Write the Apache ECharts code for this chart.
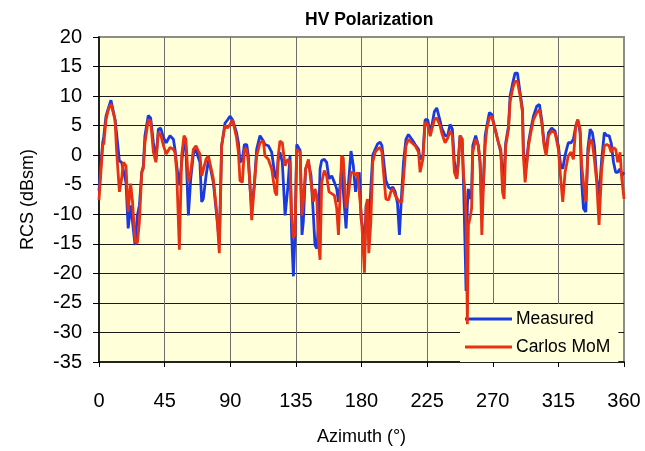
<!DOCTYPE html>
<html>
<head>
<meta charset="utf-8">
<script src="https://cdn.jsdelivr.net/npm/echarts@6/dist/echarts.min.js"></script>
<style>
html,body{margin:0;padding:0;background:#fff;}
#chart{width:645px;height:451px;}
</style>
</head>
<body>
<div id="chart"></div>
<script>
const chartTitle = 'HV Polarization';
const xAxisName = 'Azimuth (°)';
const yAxisName = 'RCS (dBsm)';
const seriesNames = ['Measured', 'Carlos MoM'];

const azimuth = [
0,2.5,3.3,4.8,6.5,8.2,11,12,14,15.5,16.7,18.5,20,21.7,23,24.7,26.3,27.7,29.3,30.4,
31.5,33.8,35.4,37.3,39,40.7,42.3,44.1,46.1,48.7,51,52.1,53.3,55.1,56.7,58.3,59.6,61.3,62.9,64.7,
66.5,68.1,69.2,70.4,71.5,73.4,75,76.1,78.4,80.7,82.5,84.1,86.4,88.2,89.8,91.6,94.3,95.6,96.7,98.3,
99.7,101.3,102.4,103.6,104.7,106.5,108.1,110.4,112.7,113.8,116.1,118.4,120.7,121.8,122.9,124.1,125.7,127.6,129.4,131,
132.1,133.3,134.4,135.6,137.9,139.2,140.1,141.7,143.6,145.4,147,148.1,149.3,150.4,151.6,152.7,154.5,156.1,157.7,159.6,
161.4,163,164.2,166.4,167.5,169.4,171,172.8,174.4,175.9,177.2,178.5,179.7,180.9,182,183.2,184.1,185,186.4,187.7,
189.4,191,192.8,194,195.1,196.7,198.5,200.1,201.5,203.1,204.7,206,207.6,208.8,210.5,212.2,214.5,216.8,219.1,220.2,
222.1,223.6,225.4,227.1,228.2,230,231.6,233.9,235,237.3,239.1,240.7,242.3,243.7,245.3,246.5,247.6,249,250,251,
251.7,252.6,253.3,254.4,255.5,256.3,258.3,260.1,261.3,262.5,263.6,264.8,265.9,267.7,269.3,271.6,273.9,275.5,276.7,277.8,
278.9,280.8,281.9,283.7,285.3,286.9,288.8,290.4,291,292.2,293.3,294.5,296.1,297.9,300.2,302,303.6,305.2,306.6,308.2,
310.4,312.7,315,316.6,318,319.6,321.8,323.7,325.3,326.9,328.3,329.9,331,332.2,333.8,335.2,336.8,338.3,339.7,341.3,
342.9,344.7,346.5,348.2,349.8,351.2,352.8,354.3,355.7,357.3,358.5,360
];

const measured = [
-6.0,2.1,3.2,6.6,8.0,9.3,6.0,3.8,-1.0,-1.2,-1.2,-4.6,-12.4,-8.5,-11.3,-15.2,-10.2,-8.5,-2.9,-1.8,
3.3,6.7,6.3,2.1,-0.9,4.4,4.6,3.0,2.1,3.3,2.7,1.0,-1.8,-5.1,-1.2,2.4,1.0,-10.2,-4.0,0.2,
1.0,-0.4,-1.2,-7.9,-7.4,-3.5,-0.9,-1.8,-4.6,-10.2,-14.6,1.6,5.4,6.0,6.6,6.0,3.8,2.1,-1.2,-0.7,
1.8,1.8,-0.1,-5.7,-9.0,-5.1,1.0,3.3,2.4,1.8,1.6,0.5,-3.5,-4.0,-0.7,0.5,-1.2,-10.2,-5.7,-0.1,
-13.5,-20.5,-13.5,1.8,0.8,-13.5,-11.3,-2.3,-1.2,-3.5,-10.2,-15.2,-15.8,-12.4,-2.3,-0.9,-0.7,-1.2,-4.0,-3.5,
-4.6,-5.7,-7.9,-2.3,-2.3,-12.4,-5.0,0.7,-1.8,-6.2,-4.0,-2.9,-10.7,-12.4,-16.5,-8.5,-7.9,-12.0,-5.7,0.0,
1.0,1.9,2.2,1.6,-0.7,-4.3,-5.4,-5.7,-5.4,-6.2,-8.2,-13.5,-6.2,-1.2,2.7,3.5,2.7,1.8,1.0,-0.7,
-0.1,6.0,6.0,3.8,5.0,7.4,8.0,5.8,4.6,3.3,3.3,5.2,4.4,-1.2,-4.0,-0.5,3.3,2.7,-5.1,-15.2,
-23.0,-8.5,-5.7,-7.4,-6.2,1.6,3.3,1.6,-1.2,-8.5,-4.6,3.3,4.9,7.2,6.9,4.4,2.1,0.5,-3.5,-3.0,
2.1,4.9,10.0,12.2,13.9,13.9,10.5,7.7,1.0,-2.3,-1.2,2.1,4.4,6.6,8.3,8.6,6.0,2.1,0.5,3.8,
4.6,4.1,1.6,-1.8,-2.3,0.0,2.1,2.1,2.7,4.9,6.0,3.8,-4.6,-9.0,-9.6,1.0,4.4,3.8,1.6,-4.0,
-6.8,-0.7,3.8,3.3,3.3,2.1,-1.2,-2.9,-2.9,-2.3,-3.5,-2.9
];

const carlosMoM = [
-7.6,1.6,2.0,6.0,7.8,8.7,6.0,1.0,-6.2,-4.0,-1.2,-1.8,-9.6,-4.8,-7.9,-14.6,-14.9,-11.3,-2.9,-2.3,
2.1,6.0,5.8,0.5,-1.2,3.8,3.5,1.7,0.2,1.3,1.0,0.5,-2.9,-16.0,-0.1,3.3,2.7,-4.6,-2.9,1.0,
1.6,0.7,0.2,-3.5,-3.5,-0.7,-0.1,-0.4,-4.0,-9.6,-16.6,1.6,5.0,4.6,5.2,6.0,3.0,0.5,-4.3,-4.6,
1.0,1.0,-1.2,-5.1,-11.0,-5.1,-0.1,2.1,2.4,-0.1,-0.7,-2.3,-6.2,-6.8,-0.1,2.4,2.1,-1.8,-0.7,-1.2,
-10.1,-14.0,-13.4,1.0,0.5,-10.2,-7.9,-2.3,-0.7,-4.6,-7.9,-5.7,-6.8,-14.6,-17.7,-4.6,-2.6,-3.5,-6.2,-6.5,
-6.8,-9.0,-13.5,-0.1,-0.5,-9.0,-6.8,-2.9,-2.9,-3.5,-2.9,-3.2,-9.6,-14.6,-19.9,-8.5,-7.4,-16.6,-11.3,-1.2,
0.5,1.0,1.3,0.5,-2.9,-7.4,-7.6,-6.2,-5.7,-6.8,-7.4,-7.9,-7.9,-7.9,1.6,2.7,2.1,1.6,0.5,-2.9,
-0.7,5.5,5.2,3.2,3.3,6.0,6.3,5.0,3.8,2.1,2.9,4.1,3.3,-2.9,-4.0,-1.2,3.3,2.7,-3.5,-6.2,
-11.0,-28.6,-11.8,-10.7,-9.0,0.5,2.7,1.6,-1.2,-13.5,-5.1,1.6,4.4,6.3,6.6,4.4,2.1,1.0,-6.2,-7.4,
1.6,4.4,9.1,11.3,12.5,12.5,10.0,7.2,-0.1,-4.6,-4.6,1.6,3.8,6.0,7.2,7.7,5.5,1.6,-0.1,3.3,
4.1,3.8,1.0,-4.0,-7.9,-2.9,-0.1,0.5,-0.7,4.9,6.0,4.4,-1.8,-4.6,-7.9,-0.1,2.7,2.1,-0.7,-4.6,
-11.8,-2.3,1.6,1.8,1.6,0.5,1.3,1.0,-1.2,0.5,-4.0,-7.4
];

const xMin = 0, xMax = 360, xStep = 45;
const yMin = -35, yMax = 20, yStep = 5;

const font = "'Liberation Sans', Arial, sans-serif";
const pair = (vals) => azimuth.map((a, i) => [a, vals[i]]);

const chart = echarts.init(document.getElementById('chart'), null, {renderer: 'canvas'});
chart.setOption({
  backgroundColor: '#ffffff',
  animation: false,
  title: {
    text: chartTitle,
    left: 300, top: 6,
    textStyle: {fontFamily: font, fontWeight: 'bold', fontSize: 17.5, color: '#000'}
  },
  grid: {
    left: 99, right: 21, top: 37, bottom: 86,
    show: true, backgroundColor: '#FFFFDA', borderColor: '#8c8c8c', borderWidth: 2
  },
  legend: {
    data: seriesNames.map(n => ({name: n, icon: 'rect'})),
    orient: 'vertical',
    left: 460, top: 304,
    padding: [6, 8, 6, 5],
    itemWidth: 47, itemHeight: 3, itemGap: 10,
    backgroundColor: '#FFFFDA',
    z: 1,
    textStyle: {fontFamily: font, fontSize: 17.5, color: '#000', padding: [0, 0, 0, -1]}
  },
  xAxis: {
    type: 'value', min: xMin, max: xMax, interval: xStep,
    name: xAxisName, nameLocation: 'middle', nameGap: 66,
    nameTextStyle: {fontFamily: font, fontSize: 18, color: '#000'},
    axisLine: {show: true, onZero: false, lineStyle: {color: '#000', width: 1.5}},
    axisTick: {show: true, inside: false, length: 5, lineStyle: {color: '#000'}},
    axisLabel: {fontFamily: font, fontSize: 20, color: '#000', margin: 29},
    splitLine: {show: true, showMinLine: false, showMaxLine: false, lineStyle: {color: '#6e6e6e', width: 1}}
  },
  yAxis: {
    type: 'value', min: yMin, max: yMax, interval: yStep,
    name: yAxisName, nameLocation: 'middle', nameGap: 62,
    nameTextStyle: {fontFamily: font, fontSize: 18, color: '#000'},
    axisLine: {show: true, lineStyle: {color: '#000', width: 1.5}},
    axisTick: {show: true, inside: false, length: 6, lineStyle: {color: '#000'}},
    axisLabel: {fontFamily: font, fontSize: 20, color: '#000', margin: 17},
    splitLine: {show: true, showMinLine: false, showMaxLine: false, lineStyle: {color: '#1a1a1a', width: 1}}
  },
  series: [
    {
      name: seriesNames[0], type: 'line', data: pair(measured),
      showSymbol: false, symbol: 'none', z: 3,
      color: '#1a3ae0',
      lineStyle: {color: '#1a3ae0', width: 2.8}
    },
    {
      name: seriesNames[1], type: 'line', data: pair(carlosMoM),
      showSymbol: false, symbol: 'none', z: 4,
      color: '#e83012',
      lineStyle: {color: '#e83012', width: 2.8}
    }
  ]
});
</script>
</body>
</html>
